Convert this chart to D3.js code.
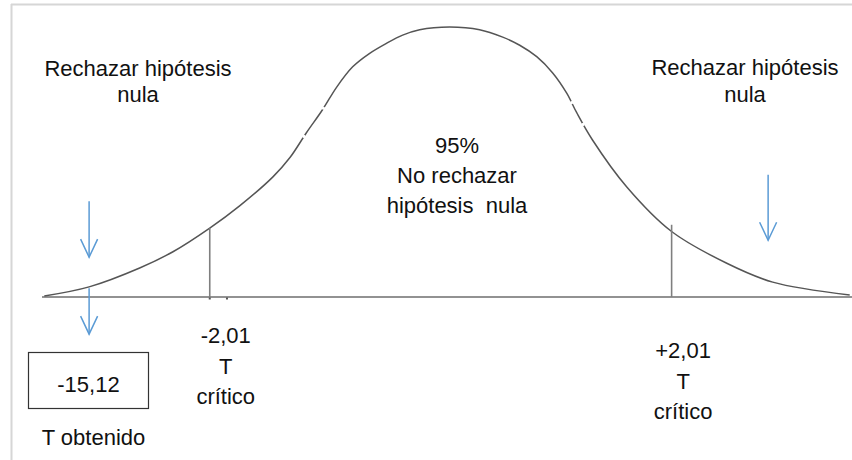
<!DOCTYPE html>
<html><head><meta charset="utf-8">
<script src="https://cdn.jsdelivr.net/npm/d3@7"></script>
<style>
html,body{margin:0;padding:0;background:#fff;}
svg{display:block;}
text{font-family:"Liberation Sans",Arial,sans-serif;font-size:22px;fill:#111;}
</style></head>
<body>
<svg id="chart" width="852" height="460"></svg>
<script>
// ---- data (t value, density) ----
const curveT =       [-3.45, -3.06, -2.62, -2.33, -2.01, -1.75, -1.46, -1.31, -1.17, -1.03, -0.905, -0.766, -0.618, -0.470, -0.331, -0.183, 0.078, 0.339, 0.540, 0.688, 0.836, 0.975, 1.097, 1.184, 1.32, 1.62, 2.01, 2.49, 2.89, 3.56];
const curveDensity = [0.0015,0.015, 0.043, 0.067, 0.102, 0.135, 0.178, 0.207, 0.243, 0.277, 0.311,  0.341,  0.361,  0.376,  0.388,  0.396,  0.400, 0.396, 0.385, 0.373, 0.356, 0.332, 0.302, 0.273, 0.233, 0.163, 0.097, 0.050, 0.022, 0.003];
const criticalT = [-2.01, 2.01];
const criticalTop = [0.102, 0.107];
const criticalLabels = [["-2,01", "T", "crítico"], ["+2,01", "T", "crítico"]];
const gapT = [-1.19, -1.02, 1.14, 1.24];
// arrows: t position, start density, end density
const arrowT = [-3.06, -3.06, 2.85];
const arrowFrom = [0.142, 0.013, 0.181];
const arrowTo = [0.059, -0.055, 0.084];
const rejectLabel = ["Rechazar hipótesis", "nula"];
const centerLabel = ["95%", "No rechazar", "hipótesis  nula"];
const obtainedValue = "-15,12";
const obtainedLabel = "T obtenido";
const axisDomain = [-3.47, 3.58];

const svg = d3.select("#chart");
const x = d3.scaleLinear().domain(axisDomain).range([42, 852]);
const y = d3.scaleLinear().domain([0, 0.4]).range([297, 27]);

// frame lines (top and left)
svg.append("line").attr("x1", 11).attr("x2", 852).attr("y1", 4.5).attr("y2", 4.5)
  .attr("stroke", "#d6d6d6").attr("stroke-width", 2);
svg.append("line").attr("x1", 11.5).attr("x2", 11.5).attr("y1", 4).attr("y2", 460)
  .attr("stroke", "#d6d6d6").attr("stroke-width", 2);

// baseline axis
svg.append("line").attr("x1", x(axisDomain[0])).attr("x2", x(axisDomain[1]))
  .attr("y1", y(0)).attr("y2", y(0)).attr("stroke", "#6e6e6e").attr("stroke-width", 1.6);

// small marks under left critical
[0, 0.15].forEach(o => {
  svg.append("rect").attr("x", x(criticalT[0] + o) - 1).attr("y", y(0) + 0.5)
    .attr("width", 2).attr("height", 2).attr("fill", "#555");
});

// curve
const pts = curveT.map((t, i) => [t, curveDensity[i]]);
const line = d3.line().x(d => x(d[0])).y(d => y(d[1])).curve(d3.curveCatmullRom.alpha(0.5));
const path = svg.append("path").attr("d", line(pts)).attr("fill", "none")
  .attr("stroke", "#555").attr("stroke-width", 1.5);

// white gaps on curve
const node = path.node();
const L = node.getTotalLength();
gapT.forEach(t => {
  const px = x(t);
  let lo = 0, hi = L;
  for (let k = 0; k < 40; k++) {
    const m = (lo + hi) / 2;
    if (node.getPointAtLength(m).x < px) lo = m; else hi = m;
  }
  const p = node.getPointAtLength(lo);
  svg.append("circle").attr("cx", p.x).attr("cy", p.y).attr("r", 1.6).attr("fill", "#fff");
});

// critical lines
criticalT.forEach((t, i) => {
  svg.append("line").attr("x1", x(t)).attr("x2", x(t))
    .attr("y1", y(criticalTop[i])).attr("y2", y(0))
    .attr("stroke", "#7f7f7f").attr("stroke-width", 1.6);
});

// arrows
const arrowColor = "#5b9bd5";
arrowT.forEach((t, i) => {
  const ax = x(t), y1 = y(arrowFrom[i]), y2 = y(arrowTo[i]);
  svg.append("line").attr("x1", ax).attr("x2", ax).attr("y1", y1).attr("y2", y2)
    .attr("stroke", arrowColor).attr("stroke-width", 1.5);
  svg.append("path").attr("d", `M${ax - 8.5},${y2 - 18} L${ax},${y2} L${ax + 8.5},${y2 - 18}`)
    .attr("fill", "none").attr("stroke", arrowColor).attr("stroke-width", 1.5);
});

function multiline(cx, baseline, lines, lh) {
  const t = svg.append("text").attr("text-anchor", "middle").attr("xml:space", "preserve");
  lines.forEach((s, i) => {
    t.append("tspan").attr("x", cx).attr("y", baseline + i * lh).text(s);
  });
  return t;
}

// reject labels
multiline(138, 76, rejectLabel, 26);
multiline(745, 75, rejectLabel, 27);
// center label
multiline(457, 153, centerLabel, 30);
// critical labels
multiline(x(criticalT[0]) + 16, 343, criticalLabels[0], 30.5);
multiline(x(criticalT[1]) + 11.5, 358, criticalLabels[1], 30.5);

// obtained box
svg.append("rect").attr("x", 28.5).attr("y", 352.5).attr("width", 120).attr("height", 56)
  .attr("fill", "none").attr("stroke", "#333").attr("stroke-width", 1.2);
svg.append("text").attr("x", 88.5).attr("y", 392).attr("text-anchor", "middle").text(obtainedValue);
svg.append("text").attr("x", 93.5).attr("y", 445).attr("text-anchor", "middle").text(obtainedLabel);
</script>
</body></html>
